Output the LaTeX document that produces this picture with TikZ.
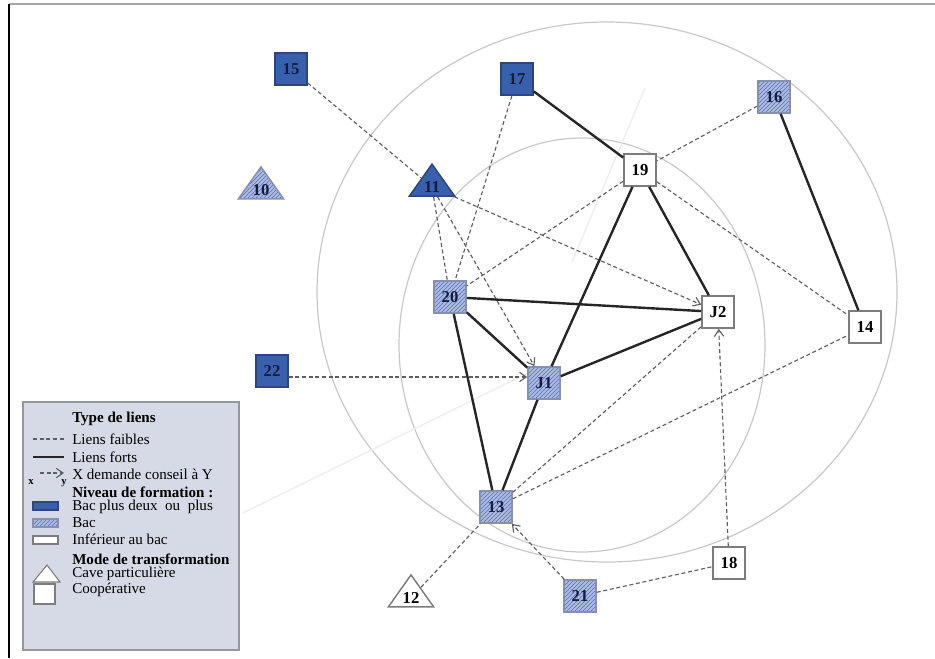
\documentclass[tikz,border=0pt]{standalone}
\usepackage{fontspec}
\setmainfont{Liberation Serif}
\usepackage{tikz}
\usetikzlibrary{shapes.geometric,arrows.meta,positioning,patterns}
\definecolor{bpcol}{RGB}{56,96,172}
\definecolor{bpdraw}{RGB}{45,70,125}
\definecolor{bacfill}{RGB}{172,187,226}
\definecolor{bachatch}{RGB}{88,112,182}
\definecolor{bacdraw}{RGB}{135,145,175}
\definecolor{infdraw}{RGB}{125,125,125}
\definecolor{labcol}{RGB}{22,28,62}
\definecolor{weakcol}{RGB}{95,95,95}
\definecolor{ringcol}{RGB}{200,200,200}
\definecolor{legfill}{RGB}{213,218,230}
\definecolor{legdraw}{RGB}{150,150,158}

\begin{document}
\begin{tikzpicture}[
  x=0.75pt, y=-0.75pt,
  sq/.style={rectangle, minimum size=24pt, inner sep=0pt, line width=1.2pt,
             font=\fontsize{12.5}{14}\selectfont\bfseries},
  tri/.style={isosceles triangle, isosceles triangle stretches,
              shape border rotate=90, minimum width=34pt, minimum height=24pt,
              inner sep=0pt, line width=1.1pt,
              font=\fontsize{12.5}{14}\selectfont\bfseries},
  bp/.style={fill=bpcol, draw=bpdraw, text=labcol},
  bac/.style={preaction={fill=bacfill}, pattern=north east lines,
              pattern color=bachatch, draw=bacdraw, text=labcol},
  inf/.style={fill=white, draw=infdraw, text=black},
  weak/.style={densely dashed, draw=weakcol, line width=0.85pt},
  strong/.style={draw=black!85, line width=1.8pt},
  adv/.style={weak, -{Straight Barb[length=5pt,width=7pt]}},
  ring/.style={draw=ringcol, line width=0.9pt},
  leg/.style={anchor=west, inner sep=0pt, font=\fontsize{11.3}{12}\selectfont},
  legb/.style={leg, font=\fontsize{11.3}{12}\selectfont\bfseries}
]
\useasboundingbox (0,0) rectangle (935,658);

%% Frame
\draw[draw=gray!70, line width=1.5pt] (9,4) -- (935,4);
\draw[draw=black, line width=1.1pt] (9,4) -- (9,658);

%% Rings and faint guides
\draw[ring] (607,292) ellipse [x radius=290, y radius=270];
\draw[ring] (582,345) ellipse [x radius=183, y radius=207];
\draw[draw=gray!14, line width=1pt] (243,513) -- (530,372);
\draw[draw=gray!14, line width=1pt] (645,88) -- (572,262);

%% Actors
\node[sq, bp]  (n15) at (291,69)  {15};
\node[sq, bp]  (n17) at (517,79)  {17};
\node[sq, bac] (n16) at (774,97)  {16};
\node[tri, bac] (n10) at (261,190) {10};
\node[tri, bp]  (n11) at (432,187) {11};
\node[sq, inf] (n19) at (640,170) {19};
\node[sq, bac] (n20) at (450,297) {20};
\node[sq, inf] (nJ2) at (718,312) {J2};
\node[sq, inf] (n14) at (865,327) {14};
\node[sq, bp]  (n22) at (272,371) {22};
\node[sq, bac] (nJ1) at (544,383) {J1};
\node[sq, bac] (n13) at (496,507) {13};
\node[sq, inf] (n18) at (729,563) {18};
\node[tri, inf] (n12) at (411,598) {12};
\node[sq, bac] (n21) at (580,596) {21};

%% Weak ties
\draw[weak] (n15) -- (n11);
\draw[weak] (n17) -- (n20);
\draw[weak] (n11) -- (n20);
\draw[weak] (n16) -- (n19);
\draw[weak] (n19) -- (n20);
\draw[weak] (n19) -- (n14);
\draw[weak] (n13) -- (nJ2);
\draw[weak] (n13) -- (n14);
\draw[weak] (n12) -- (n13);
\draw[weak] (n21) -- (n18);

%% Advice requests
\draw[adv] (n11) -- (nJ1);
\draw[adv] (n11) -- (nJ2);
\draw[adv] ([yshift=-4.5pt]n22.east) -- ([yshift=4.5pt]nJ1.west);
\draw[adv] (n21) -- (n13);
\draw[adv] (n18) -- (nJ2);

%% Strong ties
\draw[strong] (n17) -- (n19);
\draw[strong] (n16) -- (n14);
\draw[strong] (n19) -- (nJ1);
\draw[strong] (n19) -- (nJ2);
\draw[strong] (n20) -- (nJ2);
\draw[strong] (n20) -- (nJ1);
\draw[strong] (n20) -- (n13);
\draw[strong] (nJ1) -- (nJ2);
\draw[strong] (nJ1) -- (n13);

%% Legend
\draw[fill=legfill, draw=legdraw, line width=1.3pt] (23,402) rectangle (239,650);
\node[legb] (lg1) at (72,419) {Type de liens};
\node[leg]  (lg2) at (72,439) {Liens faibles};
\node[leg]  (lg3) at (72,457) {Liens forts};
\node[leg]  (lg4) at (72,474) {X demande conseil à Y};
\node[legb] (lg5) at (72,492) {Niveau de formation :};
\node[leg]  (lg6) at (72,507) {Bac plus deux\ \ ou\ \ plus};
\node[leg]  (lg7) at (72,523) {Bac};
\node[leg]  (lg8) at (72,539) {Inférieur au bac};
\node[legb] (lg9) at (72,559) {Mode de transformation};
\node[leg]  (lg10) at (72,574) {Cave particulière};
\node[leg]  (lg11) at (72,590) {Coopérative};

\draw[weak] (33,439) -- (64,439);
\draw[strong] (33,457) -- (64,457);
\draw[adv] (40,473) -- (64,473);
\node[font=\fontsize{8}{9}\selectfont\bfseries, inner sep=0pt] at (31,482) {x};
\node[font=\fontsize{8}{9}\selectfont\bfseries, inner sep=0pt] at (64,483) {y};
\draw[fill=bpcol, draw=bpdraw, line width=0.8pt] (33,502) rectangle (58,510);
\draw[preaction={fill=bacfill}, pattern=north east lines, pattern color=bachatch,
      draw=bacdraw, line width=0.8pt] (33,519) rectangle (58,527);
\draw[fill=white, draw=infdraw, line width=0.8pt] (33,536) rectangle (58,544);
\draw[fill=white, draw=infdraw, line width=0.8pt] (33,582) -- (47,565) -- (60,582) -- cycle;
\draw[fill=white, draw=infdraw, line width=0.8pt] (34,584) rectangle (55,604);

\end{tikzpicture}
\end{document}
